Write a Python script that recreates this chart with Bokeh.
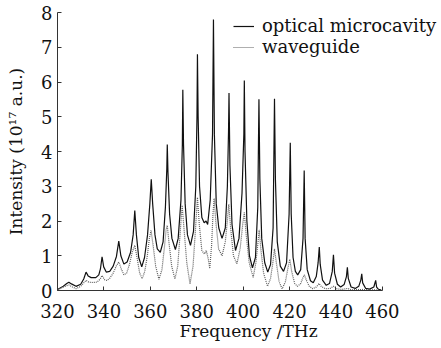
from bokeh.plotting import figure
from bokeh.models import Range1d, FixedTicker, Legend, LegendItem
from bokeh.embed import file_html
from bokeh.resources import INLINE

# ---- data ----
cavity_freq = [320.0, 322.5, 324.0, 324.9, 326.0, 328.0, 330.0, 331.3, 332.3, 333.2, 334.5, 336.5, 337.8,
               338.5, 339.2, 339.9, 341.0, 342.5, 344.0, 345.4, 346.4, 347.3, 348.6, 350.0, 351.5, 352.6,
               353.3, 354.0, 355.0, 356.3, 357.5, 358.8, 359.8, 360.4, 361.0, 362.0, 363.0, 364.3, 365.5,
               366.5, 367.1, 367.3, 367.6, 368.3, 369.3, 370.8, 372.0, 373.2, 373.8, 374.0, 374.3, 375.0,
               376.0, 377.3, 378.6, 379.6, 380.1, 380.3, 380.6, 381.2, 382.2, 383.2, 384.0, 384.7, 385.8,
               386.8, 387.2, 387.6, 388.4, 389.5, 390.9, 392.3, 393.2, 393.7, 393.9, 394.3, 395.2, 396.7,
               398.2, 399.5, 400.3, 400.5, 400.8, 401.6, 402.7, 404.0, 405.3, 406.3, 406.8, 407.2, 408.0,
               409.3, 410.6, 411.8, 412.9, 413.5, 413.9, 414.7, 416.0, 417.4, 418.7, 419.8, 420.3, 420.7,
               421.5, 422.5, 423.5, 424.8, 425.8, 426.3, 426.7, 427.6, 429.0, 430.2, 431.5, 432.3, 432.8,
               433.2, 434.2, 435.8, 437.2, 438.4, 438.9, 439.4, 440.6, 442.0, 443.5, 444.5, 444.9, 445.3,
               446.5, 448.3, 449.8, 450.7, 451.1, 451.5, 452.8, 454.5, 456.3, 457.1, 457.5, 458.3, 459.5]
cavity_int = [0.03, 0.12, 0.20, 0.24, 0.19, 0.12, 0.18, 0.33, 0.53, 0.42, 0.37, 0.37, 0.45,
              0.62, 0.97, 0.68, 0.53, 0.55, 0.70, 0.98, 1.42, 1.00, 0.76, 0.82, 1.10, 1.60,
              2.30, 1.60, 0.95, 0.68, 0.95, 1.60, 2.50, 3.20, 2.50, 1.60, 1.20, 1.10, 1.40,
              2.40, 3.50, 4.20, 3.40, 2.20, 1.50, 1.18, 1.50, 2.60, 4.20, 5.78, 4.20, 2.50,
              1.60, 1.30, 1.70, 3.00, 5.00, 6.80, 5.00, 3.00, 2.10, 1.95, 2.00, 1.90, 2.60,
              4.50, 7.80, 4.50, 2.50, 1.80, 1.50, 1.80, 3.00, 4.60, 5.68, 3.60, 1.90, 1.15,
              1.50, 2.80, 4.50, 6.04, 4.00, 2.00, 1.00, 0.65, 0.95, 2.40, 5.50, 3.20, 1.50,
              0.80, 0.53, 0.75, 1.80, 5.52, 3.20, 1.40, 0.70, 0.55, 0.80, 2.20, 4.25, 2.20,
              0.95, 0.55, 0.45, 0.60, 1.50, 3.45, 1.50, 0.60, 0.28, 0.22, 0.40, 0.80, 1.25,
              0.75, 0.30, 0.15, 0.20, 0.55, 1.03, 0.50, 0.18, 0.10, 0.17, 0.40, 0.67, 0.35,
              0.10, 0.06, 0.12, 0.30, 0.48, 0.22, 0.06, 0.04, 0.10, 0.29, 0.10, 0.03, 0.02]

guide_freq = [320.0, 322.5, 324.9, 326.5, 328.0, 330.0, 332.3, 333.5, 335.0, 337.0, 338.4, 339.2, 340.3,
              341.2, 342.5, 344.0, 345.3, 346.4, 347.5, 348.6, 349.8, 351.0, 352.2, 353.3, 354.4, 355.4,
              356.5, 357.6, 358.7, 359.6, 360.3, 361.2, 362.3, 363.7, 365.0, 366.0, 366.8, 367.3, 368.0,
              369.2, 370.6, 371.8, 372.8, 373.7, 374.6, 375.7, 377.1, 378.4, 379.4, 380.3, 381.1, 382.2,
              383.3, 384.1, 385.0, 385.6, 386.4, 387.0, 387.5, 388.2, 389.4, 390.9, 392.3, 393.2, 393.8,
              394.6, 395.8, 397.3, 398.7, 399.8, 400.5, 401.3, 402.6, 404.3, 405.5, 406.4, 406.9, 407.6,
              408.8, 410.5, 411.8, 412.8, 413.5, 414.3, 415.5, 416.8, 418.2, 419.3, 420.1, 420.9, 422.2,
              423.4, 424.8, 425.8, 426.4, 427.2, 428.5, 430.0, 431.5, 432.7, 433.6, 435.5, 437.5, 438.9,
              440.3, 442.5, 445.0, 446.5, 451.0, 455.0, 459.5]
guide_int = [0.02, 0.10, 0.16, 0.10, 0.05, 0.12, 0.29, 0.24, 0.23, 0.24, 0.33, 0.43, 0.31,
             0.29, 0.35, 0.50, 0.70, 0.82, 0.62, 0.45, 0.50, 0.75, 1.10, 1.30, 0.90, 0.50,
             0.34, 0.55, 1.00, 1.50, 1.73, 1.30, 0.70, 0.32, 0.60, 1.20, 1.75, 1.87, 1.40,
             0.70, 0.33, 0.70, 1.60, 2.45, 1.70, 0.80, 0.19, 0.70, 1.70, 2.68, 1.90, 1.15,
             1.05, 1.15, 0.90, 0.63, 1.30, 2.20, 2.65, 2.00, 1.20, 1.00, 1.40, 2.00, 2.48,
             1.80, 1.00, 0.77, 1.20, 1.90, 2.25, 1.60, 0.80, 0.38, 0.80, 1.40, 1.75, 1.20,
             0.50, 0.12, 0.35, 0.80, 1.20, 0.80, 0.25, 0.05, 0.25, 0.65, 0.90, 0.55, 0.20,
             0.12, 0.20, 0.38, 0.45, 0.30, 0.12, 0.05, 0.10, 0.20, 0.12, 0.05, 0.06, 0.12,
             0.05, 0.03, 0.06, 0.02, 0.03, 0.02, 0.01]

x_ticks = [320, 340, 360, 380, 400, 420, 440, 460]
y_ticks = [0, 1, 2, 3, 4, 5, 6, 7, 8]
series_names = ["optical microcavity", "waveguide"]

FONT = "DejaVu Serif"

# frame spans the axis 320-460 plus free room on the right for the legend
p = figure(width=441, height=348, output_backend="svg", toolbar_location=None,
           x_range=Range1d(320, 484.6), y_range=Range1d(0, 8),
           min_border_left=57, min_border_right=2, min_border_top=12, min_border_bottom=58)
p.outline_line_color = None
p.xgrid.visible = False
p.ygrid.visible = False
p.background_fill_color = "white"
p.border_fill_color = "white"

r1 = p.line(cavity_freq, cavity_int, line_color="#111111", line_width=1.2)
r2 = p.line(guide_freq, guide_int, line_color="#5e5e5e", line_width=1.2, line_dash="1 1")

for ax in (p.xaxis[0], p.yaxis[0]):
    ax.major_tick_in = 4
    ax.major_tick_out = 0
    ax.minor_tick_line_color = None
    ax.axis_line_color = "#333333"
    ax.major_tick_line_color = "#333333"
    ax.major_label_text_font = FONT
    ax.major_label_text_font_size = "18px"
    ax.major_label_text_color = "#111111"
    ax.axis_label_text_font = FONT
    ax.axis_label_text_font_size = "17px"
    ax.axis_label_text_font_style = "normal"
    ax.axis_label_text_color = "#111111"

p.xaxis[0].ticker = FixedTicker(ticks=x_ticks)
p.xaxis[0].bounds = (320, 460)
p.yaxis[0].ticker = FixedTicker(ticks=y_ticks)
p.xaxis[0].axis_label = "Frequency /THz"
p.yaxis[0].axis_label = "Intensity (10\u00b9\u2077 a.u.)"
p.xaxis[0].major_label_standoff = 13
p.xaxis[0].axis_label_standoff = 0
p.yaxis[0].major_label_standoff = 5
p.yaxis[0].axis_label_standoff = 12

legend = Legend(items=[LegendItem(label=series_names[0], renderers=[r1]),
                       LegendItem(label=series_names[1], renderers=[r2])],
                location=(176, 233))
legend.border_line_color = None
legend.background_fill_alpha = 0
legend.padding = 0
legend.margin = 0
legend.spacing = 0
legend.glyph_width = 21
legend.glyph_height = 20
legend.label_standoff = 8
legend.label_height = 20
legend.label_text_font = FONT
legend.label_text_font_size = "18px"
legend.label_text_color = "#111111"
p.add_layout(legend)

open("out.html", "w").write(file_html(p, INLINE))
